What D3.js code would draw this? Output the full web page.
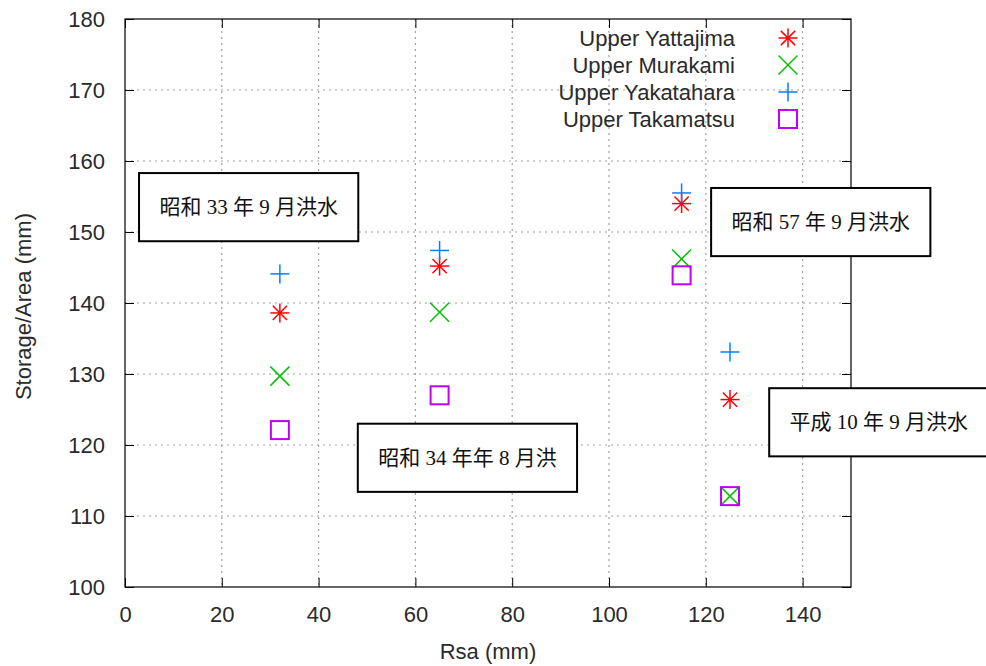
<!DOCTYPE html>
<html>
<head>
<meta charset="utf-8">
<script src="https://cdn.jsdelivr.net/npm/d3@7/dist/d3.min.js"></script>
<style>
body { margin: 0; background: #fff; }
text { font-family: "Liberation Sans", Arial, sans-serif; fill: #2a2a2a; }
.jp { font-family: "Liberation Serif", "Noto Sans CJK JP", serif; fill: #111; }
</style>
</head>
<body>
<svg id="chart" width="986" height="666"></svg>
<script>
// data
var seriesNames = ["Upper Yattajima", "Upper Murakami", "Upper Yakatahara", "Upper Takamatsu"];
var rsa = [32, 65, 115, 125];
var yattajima = [138.6, 145.2, 154.0, 126.4];
var murakami = [129.7, 138.7, 146.2, 112.8];
var yakatahara = [144.1, 147.4, 155.5, 133.1];
var takamatsu = [122.1, 127.0, 143.9, 112.8];
var xTicks = [0, 20, 40, 60, 80, 100, 120, 140];
var yTicks = [100, 110, 120, 130, 140, 150, 160, 170, 180];

// flood event labels, top-left corner in data units
var floodLabels = ["昭和 33 年 9 月洪水", "昭和 34 年年 8 月洪", "昭和 57 年 9 月洪水", "平成 10 年 9 月洪水"];
var floodX = [2.9, 48.1, 121.1, 133.1];
var floodY = [158.3, 123.0, 156.2, 128.0];

var colors = ["#ff0000", "#00c000", "#0080ff", "#c000ff"];
var shapes = ["asterisk", "cross", "plus", "square"];
var seriesValues = [yattajima, murakami, yakatahara, takamatsu];

var svg = d3.select("#chart");
var margin = {top: 19, right: 135, bottom: 79, left: 125};
var width = 986 - margin.left - margin.right,
    height = 666 - margin.top - margin.bottom;

svg.append("rect").attr("width", 986).attr("height", 666).attr("fill", "#fff");
var g = svg.append("g").attr("transform", "translate(" + margin.left + "," + margin.top + ")");

var x = d3.scaleLinear().domain([0, 150]).range([0, width]);
var y = d3.scaleLinear().domain([100, 180]).range([height, 0]);

// grid
g.selectAll(".gx").data(xTicks.filter(function(d){ return d > 0; }))
  .enter().append("line")
  .attr("x1", function(d){ return x(d); }).attr("x2", function(d){ return x(d); })
  .attr("y1", 0).attr("y2", height)
  .attr("stroke", "#a0a0a0").attr("stroke-dasharray", "2,4").attr("stroke-width", 1.2);
g.selectAll(".gy").data(yTicks.filter(function(d){ return d > 100 && d < 180; }))
  .enter().append("line")
  .attr("y1", function(d){ return y(d); }).attr("y2", function(d){ return y(d); })
  .attr("x1", 0).attr("x2", width)
  .attr("stroke", "#a0a0a0").attr("stroke-dasharray", "2,4").attr("stroke-width", 1.2);

// axes (gnuplot style: ticks inside, mirrored)
var xAxis = d3.axisBottom(x).tickValues(xTicks).tickSizeInner(-9).tickSizeOuter(0).tickPadding(19);
var yAxis = d3.axisLeft(y).tickValues(yTicks).tickSizeInner(-9).tickSizeOuter(0).tickPadding(20);

g.append("g").attr("transform", "translate(0," + height + ")").call(xAxis);
g.append("g").call(yAxis);
g.append("g").call(d3.axisTop(x).tickValues(xTicks).tickSizeInner(-9).tickSizeOuter(0).tickFormat(""));
g.append("g").attr("transform", "translate(" + width + ",0)")
  .call(d3.axisRight(y).tickValues(yTicks).tickSizeInner(-9).tickSizeOuter(0).tickFormat(""));

g.selectAll(".domain").remove();
g.selectAll(".tick line").attr("stroke", "#000");
g.selectAll(".tick text").style("font-size", "22px").attr("fill", "#2a2a2a");

g.append("rect").attr("width", width).attr("height", height)
  .attr("fill", "none").attr("stroke", "#000").attr("stroke-width", 1.2);

// axis titles
svg.append("text").attr("x", margin.left + x(75)).attr("y", 659)
  .attr("text-anchor", "middle").style("font-size", "22px").text("Rsa (mm)");
svg.append("text").attr("transform", "translate(31," + (margin.top + y(139.5)) + ") rotate(-90)")
  .attr("text-anchor", "middle").style("font-size", "22px").text("Storage/Area (mm)");

// point markers
function drawMarker(sel, shape, color, h) {
  var s = sel.append("g");
  if (shape === "plus" || shape === "asterisk") {
    s.append("line").attr("x1", -h).attr("x2", h).attr("y1", 0).attr("y2", 0);
    s.append("line").attr("x1", 0).attr("x2", 0).attr("y1", -h).attr("y2", h);
  }
  if (shape === "cross" || shape === "asterisk") {
    var k = shape === "asterisk" ? h * 0.75 : h;
    s.append("line").attr("x1", -k).attr("x2", k).attr("y1", -k).attr("y2", k);
    s.append("line").attr("x1", -k).attr("x2", k).attr("y1", k).attr("y2", -k);
  }
  if (shape === "square") {
    s.append("rect").attr("x", -h + 0.5).attr("y", -h + 0.5)
      .attr("width", 2 * h - 1).attr("height", 2 * h - 1).attr("fill", "none");
  }
  s.selectAll("line, rect").attr("stroke", color).attr("stroke-width", shape === "square" ? 2 : 1.5);
  return s;
}

seriesValues.forEach(function(vals, i) {
  vals.forEach(function(v, j) {
    drawMarker(g, shapes[i], colors[i], 9.5)
      .attr("transform", "translate(" + x(rsa[j]) + "," + y(v) + ")");
  });
});

// legend
var legend = g.append("g").attr("transform", "translate(" + (width - 114) + ",19)");
seriesNames.forEach(function(name, i) {
  var row = legend.append("g").attr("transform", "translate(0," + (i * 27) + ")");
  row.append("text").attr("x", -2).attr("y", 8).attr("text-anchor", "end")
    .style("font-size", "22px").text(name);
  drawMarker(row, shapes[i], colors[i], 9.5).attr("transform", "translate(51,0)");
});

// flood annotations
var boxW = x(45.3) - x(0), boxH = y(100) - y(109.6);
floodLabels.forEach(function(label, i) {
  var bx = margin.left + x(floodX[i]), by = margin.top + y(floodY[i]);
  var a = svg.append("g").attr("transform", "translate(" + bx + "," + by + ")");
  a.append("rect").attr("width", boxW).attr("height", boxH)
    .attr("fill", "#fff").attr("stroke", "#000").attr("stroke-width", 2);
  a.append("text").attr("class", "jp").attr("x", boxW / 2).attr("y", boxH / 2 + 7)
    .attr("text-anchor", "middle").style("font-size", "21px").text(label);
});
</script>
</body>
</html>
